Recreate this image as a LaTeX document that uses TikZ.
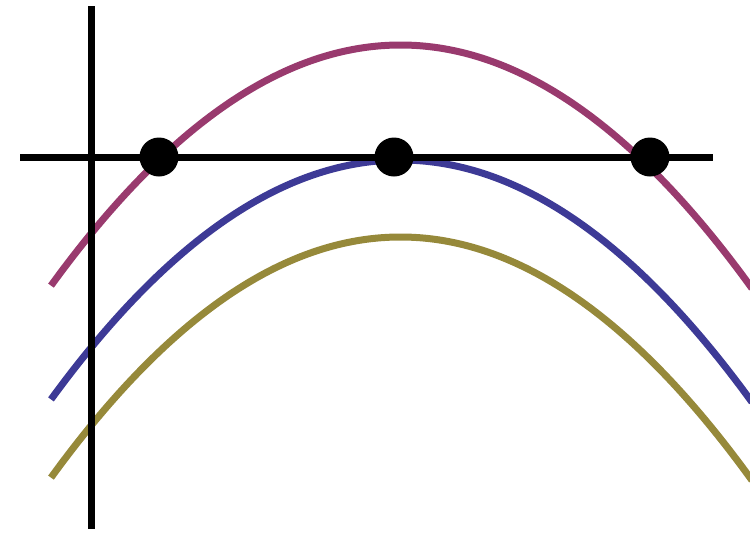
\documentclass[tikz,border=0pt]{standalone}
\definecolor{cpurple}{RGB}{153,58,110}
\definecolor{cblue}{RGB}{61,58,150}
\definecolor{colive}{RGB}{150,137,58}
\tikzset{
  curve/.style={line width=7pt, line cap=butt, domain=51:752, samples=120, smooth},
  axis/.style={line width=7pt, black},
  dot/.style={circle, fill=black, inner sep=0pt, minimum size=39pt}
}
\begin{document}
\begin{tikzpicture}[x=1pt, y=-1pt]
\useasboundingbox (0,0) rectangle (750,533);
\begin{scope}
\clip (0,0) rectangle (750,533);
\draw[curve, cpurple] plot (\x, {45+19.7*((\x-400.5)/100)^2});
\draw[curve, cblue] plot (\x, {160+19.6*((\x-400.5)/100)^2});
\draw[curve, colive] plot (\x, {237+19.7*((\x-400.5)/100)^2});
\end{scope}
\coordinate (vtop) at (91,6);
\coordinate (vbot) at (91,529);
\coordinate (hleft) at (20,157);
\coordinate (hright) at (713,157);
\draw[axis] (vtop) -- (vbot);
\draw[axis] (hleft) -- (hright);
\node[dot] (d1) at (159,157) {};
\node[dot] (d2) at (394,157) {};
\node[dot] (d3) at (650,157) {};
\end{tikzpicture}
\end{document}
